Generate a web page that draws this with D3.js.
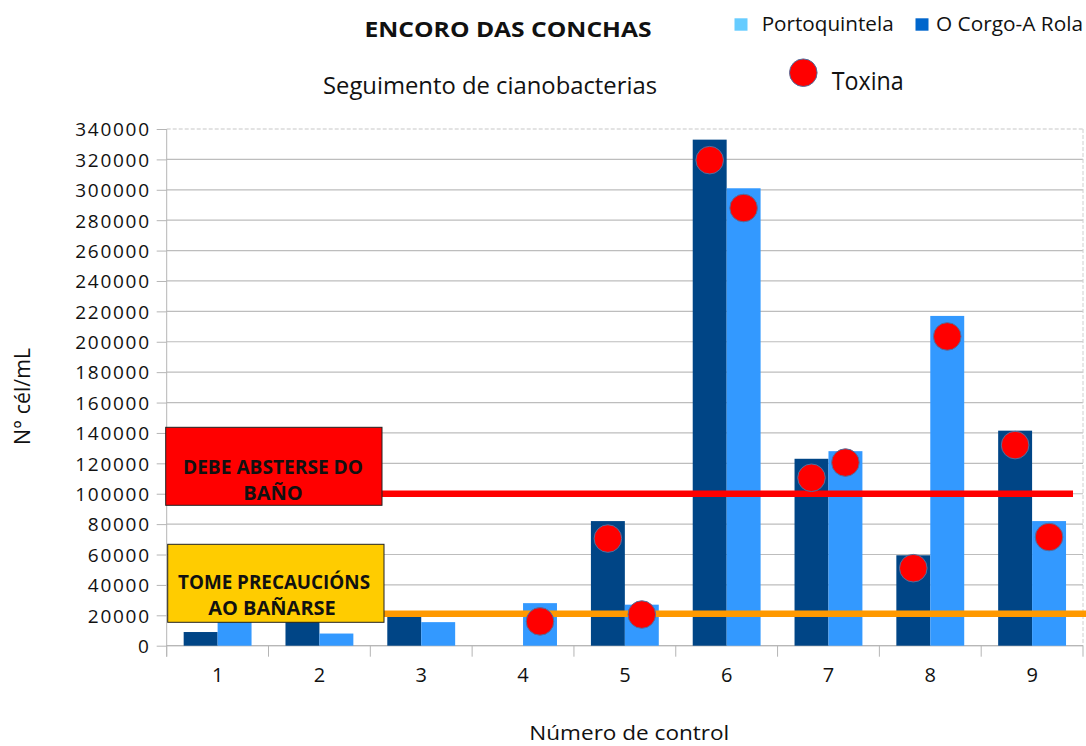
<!DOCTYPE html>
<html>
<head>
<meta charset="utf-8">
<script src="https://cdn.jsdelivr.net/npm/d3@7"></script>
<style>
  html, body { margin: 0; padding: 0; background: #fff; }
  svg { display: block; }
  text { font-family: "Open Sans", "Liberation Sans", sans-serif; fill: #111; }
</style>
</head>
<body>
<svg id="chart" width="1086" height="746"></svg>
<script>
// ---- data ----
const categories = ["1", "2", "3", "4", "5", "6", "7", "8", "9"];
const corgoValues = [9000, 19000, 19000, 0, 82000, 333000, 123000, 59500, 141500];      // O Corgo-A Rola
const portoValues = [17000, 8000, 15500, 28000, 27000, 301000, 128000, 217000, 82000];   // Portoquintela
const toxinCorgo = [null, null, null, null, 70500, 319500, 110500, 51000, 132000];
const toxinPorto = [null, null, null, 16000, 20500, 288000, 120500, 203500, 71500];
const yTicks = [0, 20000, 40000, 60000, 80000, 100000, 120000, 140000, 160000, 180000,
                200000, 220000, 240000, 260000, 280000, 300000, 320000, 340000];
const limitBath = 100000;      // DEBE ABSTERSE DO BAÑO
const limitCaution = 21000;    // TOME PRECAUCIÓNS AO BAÑARSE
const seriesNames = ["Portoquintela", "O Corgo-A Rola"];

(function () {
// ---- layout ----
const svg = d3.select("#chart");
const pL = 166.7, pR = 1083, pT = 129, pB = 645.7;
const colDark = "#004586", colLight = "#3399ff";

const x = d3.scaleBand().domain(categories).range([pL, pR]).padding(0);
const xs = d3.scaleBand().domain(["corgo", "porto"]).range([0, x.bandwidth()])
  .paddingInner(0).paddingOuter(0.5);
const y = d3.scaleLinear().domain([0, 340000]).range([pB, pT]);

// gridlines
svg.append("g").selectAll("line").data(yTicks).join("line")
  .attr("x1", pL).attr("x2", pR)
  .attr("y1", d => y(d)).attr("y2", d => y(d))
  .attr("stroke", d => d === 340000 ? "#c8c8c8" : "#bdbdbd")
  .attr("stroke-width", 1.2)
  .attr("stroke-dasharray", d => d === 340000 ? "4,2" : null);
// right border dashed
svg.append("line").attr("x1", pR).attr("x2", pR).attr("y1", pT).attr("y2", pB)
  .attr("stroke", "#d0d0d0").attr("stroke-dasharray", "4,2");

// y axis
const yAxis = d3.axisLeft(y).tickValues(yTicks).tickSize(10).tickPadding(8).tickFormat(d3.format("d"));
const gy = svg.append("g").attr("transform", `translate(${pL},0)`).call(yAxis);
gy.select(".domain").attr("stroke", "#b5b5b5").attr("d", `M0,${pT}V${pB + 11}`);
gy.selectAll(".tick line").attr("stroke", "#b5b5b5");
gy.selectAll(".tick text").attr("font-size", 19).attr("letter-spacing", "1.7px")
  .attr("font-family", "Open Sans").attr("fill", "#111").attr("x", -16).attr("dy", "0.36em");

// x axis
const xAxis = d3.axisBottom(x).tickSize(0).tickPadding(22);
const gx = svg.append("g").attr("transform", `translate(0,${pB})`).call(xAxis);
gx.select(".domain").attr("stroke", "#b5b5b5").attr("d", `M${pL},0H${pR}`);
gx.selectAll(".tick text").attr("font-size", 20).attr("font-family", "Open Sans").attr("fill", "#111");
// category separator ticks
const sepData = categories.map(c => x(c)).concat([pR]);
gx.append("g").selectAll("line").data(sepData).join("line")
  .attr("x1", d => d).attr("x2", d => d).attr("y1", 0).attr("y2", 11)
  .attr("stroke", "#b5b5b5");

// bars
const rows = categories.map((c, i) => ({ c, corgo: corgoValues[i], porto: portoValues[i], tc: toxinCorgo[i], tp: toxinPorto[i] }));
const gBars = svg.append("g");
gBars.selectAll("rect.corgo").data(rows).join("rect").attr("class", "corgo")
  .attr("x", d => x(d.c) + xs("corgo")).attr("width", xs.bandwidth())
  .attr("y", d => y(d.corgo)).attr("height", d => y(0) - y(d.corgo)).attr("fill", colDark);
gBars.selectAll("rect.porto").data(rows).join("rect").attr("class", "porto")
  .attr("x", d => x(d.c) + xs("porto")).attr("width", xs.bandwidth())
  .attr("y", d => y(d.porto)).attr("height", d => y(0) - y(d.porto)).attr("fill", colLight);

// limit lines
svg.append("line").attr("x1", 382).attr("x2", 1073)
  .attr("y1", y(limitBath)).attr("y2", y(limitBath))
  .attr("stroke", "#ff0000").attr("stroke-width", 6.5);
svg.append("line").attr("x1", 384).attr("x2", 1086)
  .attr("y1", y(limitCaution)).attr("y2", y(limitCaution))
  .attr("stroke", "#ff9900").attr("stroke-width", 6.5);

// boxes
svg.append("rect").attr("x", 165.7).attr("y", 427.3).attr("width", 216.3).attr("height", 78)
  .attr("fill", "#ff0000").attr("stroke", "#222").attr("stroke-width", 1);
svg.append("text").attr("x", 273).attr("y", 474.3).attr("text-anchor", "middle")
  .attr("font-size", 20).attr("font-weight", "bold").attr("textLength", 180).attr("lengthAdjust", "spacingAndGlyphs")
  .text("DEBE ABSTERSE DO");
svg.append("text").attr("x", 273).attr("y", 500).attr("text-anchor", "middle")
  .attr("font-size", 20).attr("font-weight", "bold").text("BAÑO");

svg.append("rect").attr("x", 167.7).attr("y", 544.3).attr("width", 216.3).attr("height", 78)
  .attr("fill", "#ffcc00").attr("stroke", "#222").attr("stroke-width", 1);
svg.append("text").attr("x", 274).attr("y", 589.3).attr("text-anchor", "middle")
  .attr("font-size", 20).attr("font-weight", "bold").attr("textLength", 192).attr("lengthAdjust", "spacingAndGlyphs")
  .text("TOME PRECAUCIÓNS");
svg.append("text").attr("x", 272).attr("y", 615).attr("text-anchor", "middle")
  .attr("font-size", 20).attr("font-weight", "bold").text("AO BAÑARSE");

// toxin dots
const dots = [];
rows.forEach(d => {
  if (d.tc != null) dots.push({ cx: x(d.c) + xs("corgo") + xs.bandwidth() / 2, v: d.tc });
  if (d.tp != null) dots.push({ cx: x(d.c) + xs("porto") + xs.bandwidth() / 2, v: d.tp });
});
svg.append("g").selectAll("circle").data(dots).join("circle")
  .attr("cx", d => d.cx).attr("cy", d => y(d.v)).attr("r", 13.8)
  .attr("fill", "#ff0000").attr("stroke", "#4f6f9f").attr("stroke-width", 1);

// titles
svg.append("text").attr("x", 508).attr("y", 37).attr("text-anchor", "middle")
  .attr("font-size", 21.5).attr("font-weight", "bold").attr("textLength", 287).attr("lengthAdjust", "spacingAndGlyphs")
  .text("ENCORO DAS CONCHAS");
svg.append("text").attr("x", 490).attr("y", 94.3).attr("text-anchor", "middle")
  .attr("font-family", "Liberation Sans").attr("font-size", 23)
  .attr("textLength", 334).attr("lengthAdjust", "spacingAndGlyphs")
  .text("Seguimento de cianobacterias");

// axis titles
svg.append("text").attr("transform", "translate(30,396.5) rotate(-90)").attr("text-anchor", "middle")
  .attr("font-family", "Liberation Sans").attr("font-size", 21)
  .attr("textLength", 97).attr("lengthAdjust", "spacingAndGlyphs")
  .text("N° cél/mL");
svg.append("text").attr("x", 629.3).attr("y", 740).attr("text-anchor", "middle")
  .attr("font-size", 20.5).attr("textLength", 200).attr("lengthAdjust", "spacingAndGlyphs")
  .text("Número de control");

// legend
const legendItems = [
  { name: seriesNames[0], color: "#66ccff", sx: 734.5, tx: 761.7, w: 132 },
  { name: seriesNames[1], color: "#0066cc", sx: 915.5, tx: 936, w: 147 }
];
const gl = svg.append("g");
gl.selectAll("rect").data(legendItems).join("rect")
  .attr("x", d => d.sx).attr("y", 18.3).attr("width", 13).attr("height", 12.4).attr("fill", d => d.color);
gl.selectAll("text").data(legendItems).join("text")
  .attr("x", d => d.tx).attr("y", 30.7).attr("font-size", 19.5)
  .attr("textLength", d => d.w).attr("lengthAdjust", "spacingAndGlyphs")
  .text(d => d.name);
svg.append("circle").attr("cx", 803.3).attr("cy", 72.7).attr("r", 13.8)
  .attr("fill", "#ff0000").attr("stroke", "#4f6f9f").attr("stroke-width", 1);
svg.append("text").attr("x", 831.7).attr("y", 89.5).attr("font-size", 25)
  .attr("textLength", 72).attr("lengthAdjust", "spacingAndGlyphs").text("Toxina");
})();
</script>
</body>
</html>
